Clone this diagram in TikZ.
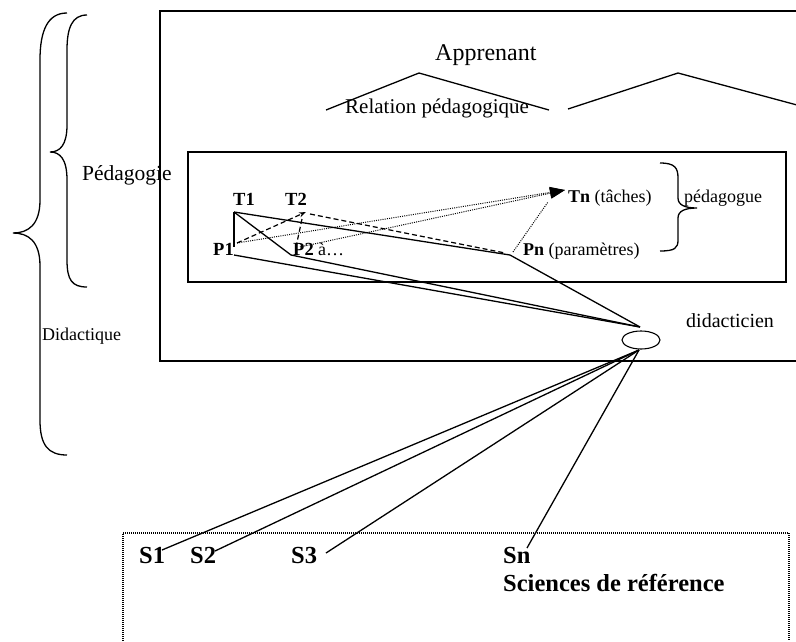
\documentclass[tikz,border=0pt]{standalone}
\usepackage{fontspec}
\setmainfont{Liberation Serif}
\usetikzlibrary{arrows.meta,shapes.geometric}
\begin{document}
\begin{tikzpicture}[x=1pt,y=-1pt,
  frame/.style={line width=1.3pt},
  link/.style={line width=1.3pt},
  dashlink/.style={line width=1.2pt, dash pattern=on 5pt off 3pt},
  dotlink/.style={line width=1pt, dash pattern=on 1pt off 1.2pt},
  lbl/.style={inner sep=0pt, anchor=base west, font=\fontsize{18}{20}\selectfont},
  blbl/.style={inner sep=0pt, anchor=base west, font=\fontsize{18.5}{20}\selectfont\bfseries},
  slbl/.style={inner sep=0pt, anchor=base west, font=\fontsize{24.5}{27}\selectfont\bfseries},
]
\useasboundingbox (0,0) rectangle (796,641);

% left braces
\draw[frame] (67,13) .. controls (48,13) and (40,30) .. (40,60) -- (40,200)
  .. controls (40,225) and (28,233) .. (13,233)
  .. controls (28,233) and (40,241) .. (40,266) -- (40,420)
  .. controls (40,445) and (48,455) .. (67,455);
\draw[frame] (87,15) .. controls (72,15) and (67,28) .. (67,50) -- (67,125)
  .. controls (67,145) and (60,152) .. (50,152)
  .. controls (60,152) and (67,159) .. (67,180) -- (67,260)
  .. controls (67,280) and (72,287) .. (87,287);
\node[lbl, font=\fontsize{21.5}{23}\selectfont] (pedag) at (82,180) {Pédagogie};
\node[lbl] (didact) at (42,340) {Didactique};

% frames
\draw[frame] (796,11) -- (160,11) -- (160,361) -- (796,361);
\draw[frame] (188,152) rectangle (786,282);

% learner and pedagogical relation
\node[lbl, font=\fontsize{24}{26}\selectfont] (appr) at (435,60) {Apprenant};
\draw[link] (326,110) -- (419,73) -- (549,110);
\draw[link] (568,109) -- (678,73) -- (797,105);
\node[lbl, font=\fontsize{21}{23}\selectfont] (relped) at (345,113) {Relation pédagogique};

% tasks and parameters
\node[blbl] (T1) at (233,205) {T1};
\node[blbl] (T2) at (285,205) {T2};
\node[blbl] (P1) at (213,255) {P1};
\node[blbl] (P2) at (293,255) {P2};
\node[lbl] (etc) at (318,255) {à…};
\node[lbl] (Tn) at (568,202) {\textbf{Tn} (tâches)};
\node[lbl] (Pn) at (523,255) {\textbf{Pn} (paramètres)};
\node[lbl] (pedagogue) at (684,202) {pédagogue};
\draw[frame] (660,163) .. controls (675,163) and (678,168) .. (678,178) -- (678,198)
  .. controls (678,205) and (685,208) .. (697,208)
  .. controls (685,208) and (678,211) .. (678,218) -- (678,240)
  .. controls (678,248) and (675,251) .. (660,251);

\coordinate (t1c) at (234,212);
\coordinate (p1c) at (234,247);
\coordinate (p1s) at (234,255);
\coordinate (p1d) at (237,243);
\coordinate (p2c) at (291,255);
\coordinate (p2d) at (300,247);
\coordinate (p2t) at (296,247);
\coordinate (t2a) at (306,212);
\coordinate (t2b) at (302,219);
\coordinate (t2r) at (310,214);
\coordinate (pnc) at (510,255);
\coordinate (pnd) at (513,252);
\coordinate (pnr) at (505,253);
\coordinate (tna) at (565,190);
\coordinate (tnb) at (548,202);

% didactician
\node[draw, ellipse, line width=1.1pt, minimum width=38pt, minimum height=18pt, inner sep=0pt] (ell) at (641,340) {};
\node[lbl, font=\fontsize{20}{22}\selectfont] (didac) at (686,327) {didacticien};
\coordinate (dtop) at (640,327);
\coordinate (dbot) at (639,350);

% solid links
\draw[link] (t1c) -- (p1c);
\draw[link] (t1c) -- (p2c);
\draw[link] (t1c) -- (pnc);
\draw[link] (p1s) -- (dtop);
\draw[link] (p2c) -- (dtop);
\draw[link] (pnc) -- (dtop);

% dashed links
\draw[dashlink, -{Stealth[length=7pt,width=5pt]}] (p1d) -- (t2a);
\draw[dashlink] (t2b) -- (p2t);
\draw[dashlink] (t2r) -- (pnr);

% dotted links
\draw[dotlink, -{Triangle[length=15pt,width=11pt]}] (p1d) -- (tna);
\draw[dotlink, -{Triangle[length=15pt,width=11pt]}] (p2d) -- (tna);
\draw[dotlink] (pnd) -- (tnb);

% reference sciences
\draw[line width=1.1pt, dash pattern=on 1pt off 1pt] (123,641) -- (123,533) -- (789,533) -- (789,641);
\node[slbl] (S1) at (139,563) {S1};
\node[slbl] (S2) at (190,563) {S2};
\node[slbl] (S3) at (291,563) {S3};
\node[slbl] (Sn) at (503,563) {Sn};
\node[slbl] (sci) at (503,591) {Sciences de référence};
\coordinate (s1) at (162,550);
\coordinate (s2) at (215,551);
\coordinate (s3) at (326,553);
\coordinate (sn) at (527,548);
\draw[link] (dbot) -- (s1);
\draw[link] (dbot) -- (s2);
\draw[link] (dbot) -- (s3);
\draw[link] (dbot) -- (sn);
\end{tikzpicture}
\end{document}
